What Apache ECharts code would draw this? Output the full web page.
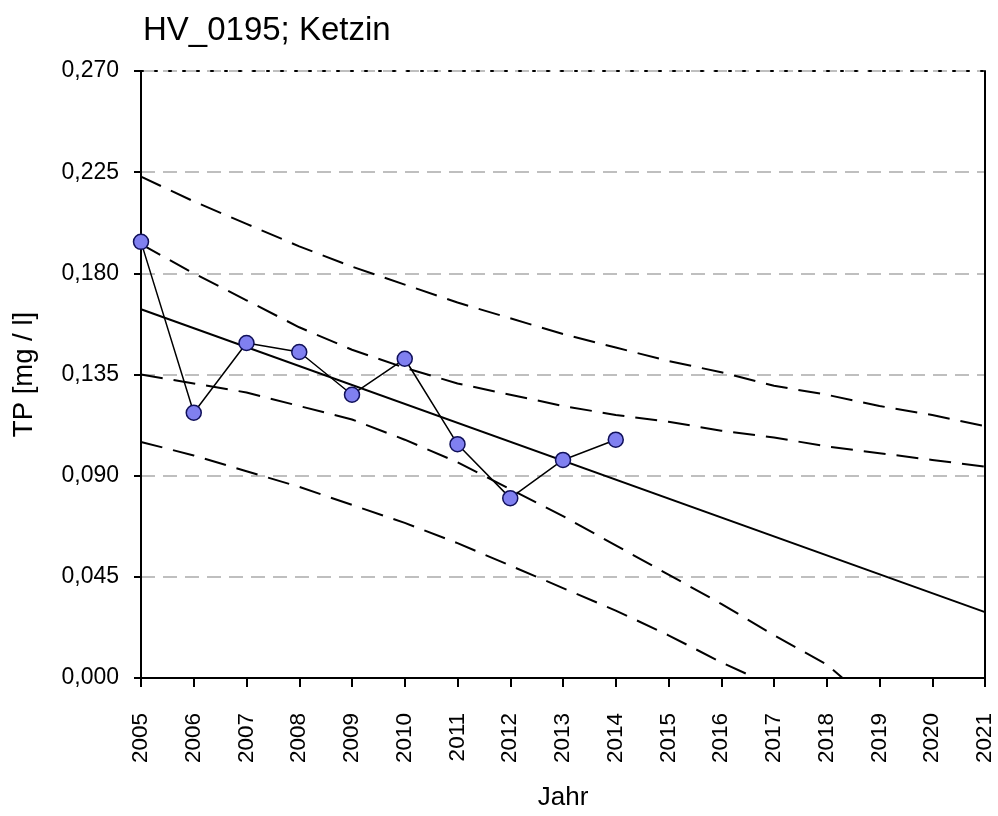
<!DOCTYPE html>
<html>
<head>
<meta charset="utf-8">
<title>HV_0195; Ketzin</title>
<script src="https://cdn.jsdelivr.net/npm/echarts@6/dist/echarts.min.js"></script>
<style>
  html, body { margin: 0; padding: 0; background: #fff; }
  #chart { width: 998px; height: 816px; }
</style>
</head>
<body>
<div id="chart"></div>
<script>
// measured values
const years = [2005, 2006, 2007, 2008, 2009, 2010, 2011, 2012, 2013, 2014];
const tpValues = [0.194, 0.118, 0.149, 0.145, 0.126, 0.142, 0.104, 0.080, 0.097, 0.106];

// regression line
const trendYears = [2005, 2021];
const trendValues = [0.164, 0.0293];

// band lines read at every year
const bandYears = [2005, 2006, 2007, 2008, 2009, 2010, 2011, 2012, 2013, 2014, 2015, 2016, 2017, 2018, 2019, 2020, 2021];
const upperOuter = [0.223, 0.212, 0.202, 0.192, 0.183, 0.175, 0.167, 0.160, 0.153, 0.147, 0.141, 0.136, 0.130, 0.126, 0.121, 0.117, 0.112];
const upperInner = [0.193, 0.180, 0.168, 0.156, 0.146, 0.138, 0.131, 0.126, 0.121, 0.117, 0.114, 0.110, 0.107, 0.103, 0.100, 0.097, 0.094];
const lowerInner = [0.135, 0.131, 0.127, 0.121, 0.115, 0.106, 0.096, 0.084, 0.072, 0.059, 0.046, 0.033, 0.019, 0.006];
const lowerInnerZero = 2018.3;
const lowerOuter = [0.105, 0.099, 0.092, 0.085, 0.077, 0.069, 0.060, 0.050, 0.040, 0.030, 0.019, 0.007];
const lowerOuterZero = 2016.65;

const FONT = '"Liberation Sans", Arial, sans-serif';

const pairs = (xs, ys) => ys.map((v, i) => [xs[i], v]);
const toZero = (vals, zeroAt) => pairs(bandYears, vals).concat([[zeroAt, 0]]);

const dashed = {
  color: '#000',
  width: 2,
  type: [22, 11]
};

const bandSeries = (name, data) => ({
  name: name,
  type: 'line',
  data: data,
  showSymbol: false,
  symbol: 'none',
  smooth: false,
  silent: true,
  lineStyle: dashed,
  z: 3
});

const chart = echarts.init(document.getElementById('chart'));

const option = {
  animation: false,
  backgroundColor: '#fff',
  title: {
    text: 'HV_0195; Ketzin',
    left: 138,
    top: 9,
    textStyle: {
      fontFamily: FONT,
      fontSize: 33,
      fontWeight: 'normal',
      color: '#000'
    }
  },
  grid: {
    left: 141,
    right: 13,
    top: 71,
    bottom: 136
  },
  xAxis: [
    {
      type: 'value',
      min: 2005,
      max: 2021,
      interval: 1,
      position: 'bottom',
      name: 'Jahr',
      nameLocation: 'middle',
      nameGap: 107,
      nameTextStyle: {
        fontFamily: FONT,
        fontSize: 26,
        color: '#000'
      },
      axisLine: {
        onZero: false,
        lineStyle: { color: '#000', width: 2 }
      },
      axisTick: {
        show: true,
        inside: false,
        length: 9,
        lineStyle: { color: '#000', width: 2 }
      },
      axisLabel: {
        rotate: 90,
        margin: 35,
        fontFamily: FONT,
        fontSize: 22.5,
        color: '#000',
        formatter: v => String(Math.round(v))
      },
      splitLine: { show: false }
    },
    {
      type: 'value',
      min: 2005,
      max: 2021,
      interval: 1,
      position: 'top',
      axisLine: {
        onZero: false,
        lineStyle: { color: '#000', width: 2, type: [2, 12] }
      },
      axisTick: { show: false },
      axisLabel: { show: false },
      splitLine: { show: false }
    }
  ],
  yAxis: [
    {
      type: 'value',
      min: 0,
      max: 0.27,
      interval: 0.045,
      name: 'TP [mg / l]',
      nameLocation: 'middle',
      nameGap: 103,
      nameTextStyle: {
        fontFamily: FONT,
        fontSize: 27.5,
        color: '#000'
      },
      axisLine: {
        show: true,
        onZero: false,
        lineStyle: { color: '#000', width: 2 }
      },
      axisTick: {
        show: true,
        length: 7,
        lineStyle: { color: '#000', width: 2 }
      },
      axisLabel: {
        margin: 22,
        fontFamily: FONT,
        fontSize: 23,
        color: '#000',
        formatter: v => v.toFixed(3).replace('.', ',')
      },
      splitLine: {
        show: true,
        lineStyle: { color: '#bfbfbf', width: 2, type: [14, 8] }
      }
    },
    {
      type: 'value',
      min: 0,
      max: 0.27,
      interval: 0.045,
      position: 'right',
      axisLine: {
        show: true,
        onZero: false,
        lineStyle: { color: '#000', width: 2 }
      },
      axisTick: { show: false },
      axisLabel: { show: false },
      splitLine: { show: false }
    }
  ],
  series: [
    bandSeries('upperOuter', pairs(bandYears, upperOuter)),
    bandSeries('upperInner', pairs(bandYears, upperInner)),
    bandSeries('lowerInner', toZero(lowerInner, lowerInnerZero)),
    bandSeries('lowerOuter', toZero(lowerOuter, lowerOuterZero)),
    {
      name: 'Trend',
      type: 'line',
      data: pairs(trendYears, trendValues),
      showSymbol: false,
      symbol: 'none',
      silent: true,
      lineStyle: { color: '#000', width: 2 },
      z: 4
    },
    {
      name: 'TP',
      type: 'line',
      data: pairs(years, tpValues),
      symbol: 'circle',
      symbolSize: 15,
      showAllSymbol: true,
      lineStyle: { color: '#000', width: 1.5 },
      itemStyle: {
        color: '#8080f0',
        borderColor: '#10105a',
        borderWidth: 1.5
      },
      z: 5
    }
  ]
};

chart.setOption(option);
</script>
</body>
</html>
